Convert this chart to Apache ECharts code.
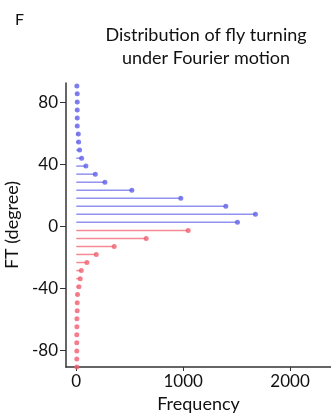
<!DOCTYPE html>
<html>
<head>
<meta charset="utf-8">
<script src="https://cdn.jsdelivr.net/npm/echarts@6/dist/echarts.min.js"></script>
<style>
html, body { margin: 0; padding: 0; background: #fff; }
#chart { width: 331px; height: 419px; }
</style>
</head>
<body>
<div id="chart"></div>
<script>
// bin centres (degree) and counts
var blueAngles = [90.6, 85.5, 80.3, 75.1, 69.9, 64.8, 59.6, 54.4, 49.2, 44.0, 38.9, 33.7, 28.5, 23.3, 18.1, 13.0, 7.8, 2.6];
var blueFreq = [6, 9, 9, 9, 9, 9, 19, 22, 31, 50, 90, 178, 268, 520, 978, 1399, 1676, 1508];
var redAngles = [-2.6, -7.8, -13.0, -18.1, -23.3, -28.5, -33.7, -38.9, -44.0, -49.2, -54.4, -59.6, -64.8, -69.9, -75.1, -80.3, -85.5, -90.7];
var redFreq = [1047, 654, 355, 187, 100, 47, 37, 25, 12, 9, 9, 6, 6, 5, 5, 5, 5, 5];
var yTicks = [-80, -40, 0, 40, 80];
var xTicks = [0, 1000, 2000];

var fontFam = 'Lato, "Noto Sans", sans-serif';

function pairs(freq, ang) {
	return freq.map(function(f, i) {
		return [f, ang[i]];
	});
}

function stem(color) {
	return function(params, api) {
		var a = api.coord([0, api.value(1)]);
		var b = api.coord([api.value(0), api.value(1)]);
		return {
			type: 'line',
			shape: { x1: a[0], y1: a[1], x2: b[0], y2: b[1] },
			style: { stroke: color, lineWidth: 1.5 }
		};
	};
}

var chart = echarts.init(document.getElementById('chart'));
var option = {
	animation: false,
	title: [{
		text: 'Distribution of fly turning\nunder Fourier motion',
		left: 201,
		top: 19,
		textAlign: 'center',
		textStyle: { fontFamily: fontFam, fontSize: 18, fontWeight: 'normal', color: '#111', lineHeight: 23 }
	}, {
		text: 'F',
		left: 10,
		top: 7,
		textStyle: { fontFamily: fontFam, fontSize: 16, fontWeight: 'normal', color: '#111' }
	}],
	grid: { left: 66, right: 0, top: 83, bottom: 52, containLabel: false, outerBoundsMode: 'none' },
	xAxis: {
		type: 'value',
		min: -96,
		max: 2383,
		name: 'Frequency',
		nameLocation: 'middle',
		nameGap: 26,
		nameTextStyle: { fontFamily: fontFam, fontSize: 18, color: '#111' },
		axisLine: { show: true, onZero: false, lineStyle: { color: '#333', width: 1.5 } },
		axisTick: { show: true, length: 4, customValues: xTicks, lineStyle: { color: '#333' } },
		axisLabel: {
			customValues: xTicks, margin: 6, fontFamily: fontFam, fontSize: 17, color: '#111',
			formatter: function(v) { return String(v); }
		},
		splitLine: { show: false }
	},
	yAxis: {
		type: 'value',
		min: -90.7,
		max: 92.5,
		name: 'FT (degree)',
		nameLocation: 'middle',
		nameRotate: 90,
		nameGap: 40,
		nameTextStyle: { fontFamily: fontFam, fontSize: 18, color: '#111' },
		axisLine: { show: true, onZero: false, lineStyle: { color: '#333', width: 1.5 } },
		axisTick: { show: true, length: 6, customValues: yTicks, lineStyle: { color: '#333' } },
		axisLabel: {
			customValues: yTicks, margin: 8, fontFamily: fontFam, fontSize: 17, color: '#111',
			formatter: function(v) { return String(v); }
		},
		splitLine: { show: false }
	},
	series: [{
		type: 'custom',
		data: pairs(blueFreq, blueAngles),
		renderItem: stem('rgba(110,110,235,0.75)'),
		z: 1
	}, {
		type: 'custom',
		data: pairs(redFreq, redAngles),
		renderItem: stem('rgba(240,100,110,0.75)'),
		z: 1
	}, {
		type: 'scatter',
		data: pairs(blueFreq, blueAngles),
		symbolSize: 5,
		itemStyle: { color: '#5f5fe8' },
		z: 2
	}, {
		type: 'scatter',
		data: pairs(redFreq, redAngles),
		symbolSize: 5,
		itemStyle: { color: '#ef6070' },
		z: 2
	}]
};
chart.setOption(option);
</script>
</body>
</html>
